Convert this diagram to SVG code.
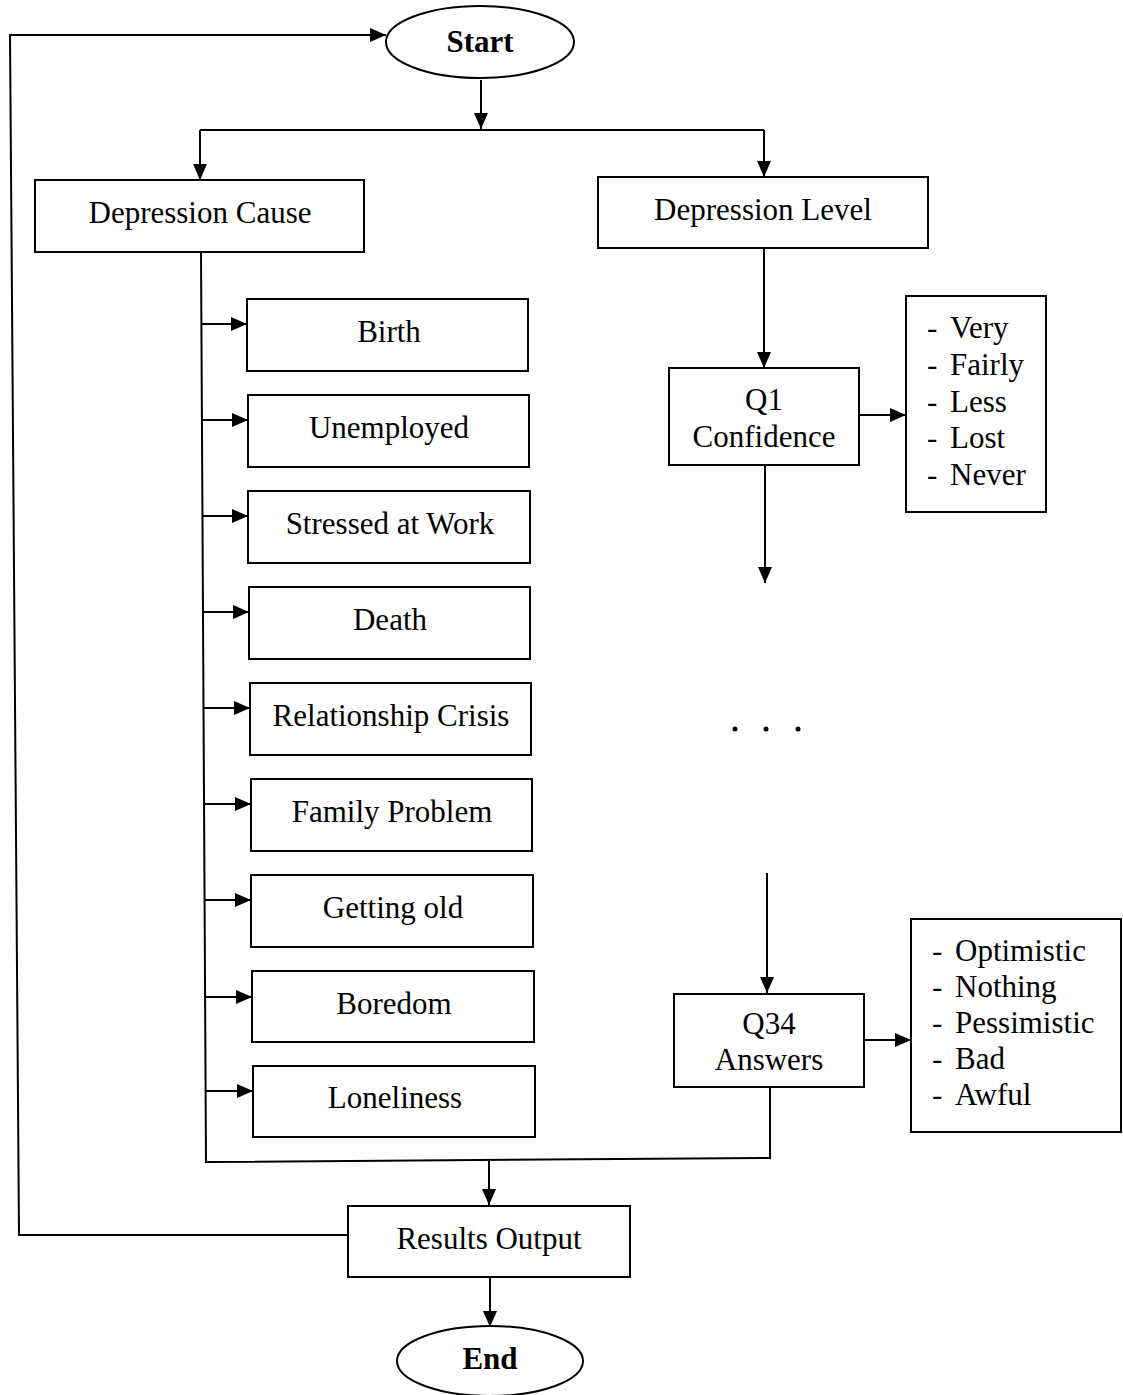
<svg xmlns="http://www.w3.org/2000/svg" width="1123" height="1395" viewBox="0 0 1123 1395">
<style>
.box{fill:#fff;stroke:#000;stroke-width:2}
.ln{fill:none;stroke:#000;stroke-width:2}
.c{text-anchor:middle}
.b{font-weight:bold}
</style>
<defs>
<marker id="ah" viewBox="0 0 16 14" refX="16" refY="7" markerWidth="16" markerHeight="14" markerUnits="userSpaceOnUse" orient="auto">
<path d="M0,0 L16,7 L0,14 Z" fill="#000"/>
</marker>
</defs>
<rect width="1123" height="1395" fill="#fff"/>
<g id="connectors">
<path class="ln" d="M348,1235 L19,1235 L10,35 L386,35" marker-end="url(#ah)"/>
<path class="ln" d="M481,80 L481,129" marker-end="url(#ah)"/>
<path class="ln" d="M200,130 L764,130"/>
<path class="ln" d="M200,130 L200,180" marker-end="url(#ah)"/>
<path class="ln" d="M764,130 L764,177" marker-end="url(#ah)"/>
<path class="ln" d="M201,252 L206,1162 L770,1158 L770,1087"/>
<path class="ln" d="M201,324 L247,324" marker-end="url(#ah)"/>
<path class="ln" d="M202,420 L248,420" marker-end="url(#ah)"/>
<path class="ln" d="M202,516 L248,516" marker-end="url(#ah)"/>
<path class="ln" d="M203,612 L249,612" marker-end="url(#ah)"/>
<path class="ln" d="M203,708 L250,708" marker-end="url(#ah)"/>
<path class="ln" d="M204,804 L251,804" marker-end="url(#ah)"/>
<path class="ln" d="M204,900 L251,900" marker-end="url(#ah)"/>
<path class="ln" d="M205,997 L252,997" marker-end="url(#ah)"/>
<path class="ln" d="M205,1091 L253,1091" marker-end="url(#ah)"/>
<path class="ln" d="M764,248 L764,368" marker-end="url(#ah)"/>
<path class="ln" d="M859,415 L906,415" marker-end="url(#ah)"/>
<path class="ln" d="M765,465 L765,583" marker-end="url(#ah)"/>
<path class="ln" d="M767,873 L767,993" marker-end="url(#ah)"/>
<path class="ln" d="M864,1040 L911,1040" marker-end="url(#ah)"/>
<path class="ln" d="M489,1160 L489,1205" marker-end="url(#ah)"/>
<path class="ln" d="M490,1277 L490,1327" marker-end="url(#ah)"/>
<circle cx="735" cy="729" r="2.5" fill="#000"/>
<circle cx="766" cy="729" r="2.5" fill="#000"/>
<circle cx="798" cy="729" r="2.5" fill="#000"/>
</g>
<g font-family="Liberation Serif, DejaVu Serif, serif" font-size="31" fill="#000">
<g id="start"><ellipse class="box" cx="480" cy="42" rx="94" ry="36"/><text class="c b" x="480" y="52">Start</text></g>
<g id="cause"><rect class="box" x="35" y="180" width="329" height="72"/><text class="c" x="200" y="223">Depression Cause</text></g>
<g id="level"><rect class="box" x="598" y="177" width="330" height="71"/><text class="c" x="763" y="220">Depression Level</text></g>
<g id="birth"><rect class="box" x="247" y="299" width="281" height="72"/><text class="c" x="389" y="342">Birth</text></g>
<g id="unemployed"><rect class="box" x="248" y="395" width="281" height="72"/><text class="c" x="389" y="438">Unemployed</text></g>
<g id="stressed"><rect class="box" x="248" y="491" width="282" height="72"/><text class="c" x="390" y="534">Stressed at Work</text></g>
<g id="death"><rect class="box" x="249" y="587" width="281" height="72"/><text class="c" x="390" y="630">Death</text></g>
<g id="relationship"><rect class="box" x="250" y="683" width="281" height="72"/><text class="c" x="391" y="726">Relationship Crisis</text></g>
<g id="family"><rect class="box" x="251" y="779" width="281" height="72"/><text class="c" x="392" y="822">Family Problem</text></g>
<g id="old"><rect class="box" x="251" y="875" width="282" height="72"/><text class="c" x="393" y="918">Getting old</text></g>
<g id="boredom"><rect class="box" x="252" y="971" width="282" height="71"/><text class="c" x="394" y="1014">Boredom</text></g>
<g id="loneliness"><rect class="box" x="253" y="1066" width="282" height="71"/><text class="c" x="395" y="1108">Loneliness</text></g>
<g id="q1"><rect class="box" x="669" y="368" width="190" height="97"/><text class="c" x="764" y="410">Q1</text><text class="c" x="764" y="447">Confidence</text></g>
<g id="ans1"><rect class="box" x="906" y="296" width="140" height="216"/>
<text x="927" y="338">-</text><text x="950" y="338">Very</text>
<text x="927" y="375">-</text><text x="950" y="375">Fairly</text>
<text x="927" y="412">-</text><text x="950" y="412">Less</text>
<text x="927" y="448">-</text><text x="950" y="448">Lost</text>
<text x="927" y="485">-</text><text x="950" y="485">Never</text>
</g>
<g id="q34"><rect class="box" x="674" y="994" width="190" height="93"/><text class="c" x="769" y="1034">Q34</text><text class="c" x="769" y="1070">Answers</text></g>
<g id="ans2"><rect class="box" x="911" y="919" width="210" height="213"/>
<text x="932" y="961">-</text><text x="955" y="961">Optimistic</text>
<text x="932" y="997">-</text><text x="955" y="997">Nothing</text>
<text x="932" y="1033">-</text><text x="955" y="1033">Pessimistic</text>
<text x="932" y="1069">-</text><text x="955" y="1069">Bad</text>
<text x="932" y="1105">-</text><text x="955" y="1105">Awful</text>
</g>
<g id="results"><rect class="box" x="348" y="1206" width="282" height="71"/><text class="c" x="489" y="1249">Results Output</text></g>
<g id="end"><ellipse class="box" cx="490" cy="1361" rx="93" ry="35"/><text class="c b" x="490" y="1369">End</text></g>
</g>
</svg>
